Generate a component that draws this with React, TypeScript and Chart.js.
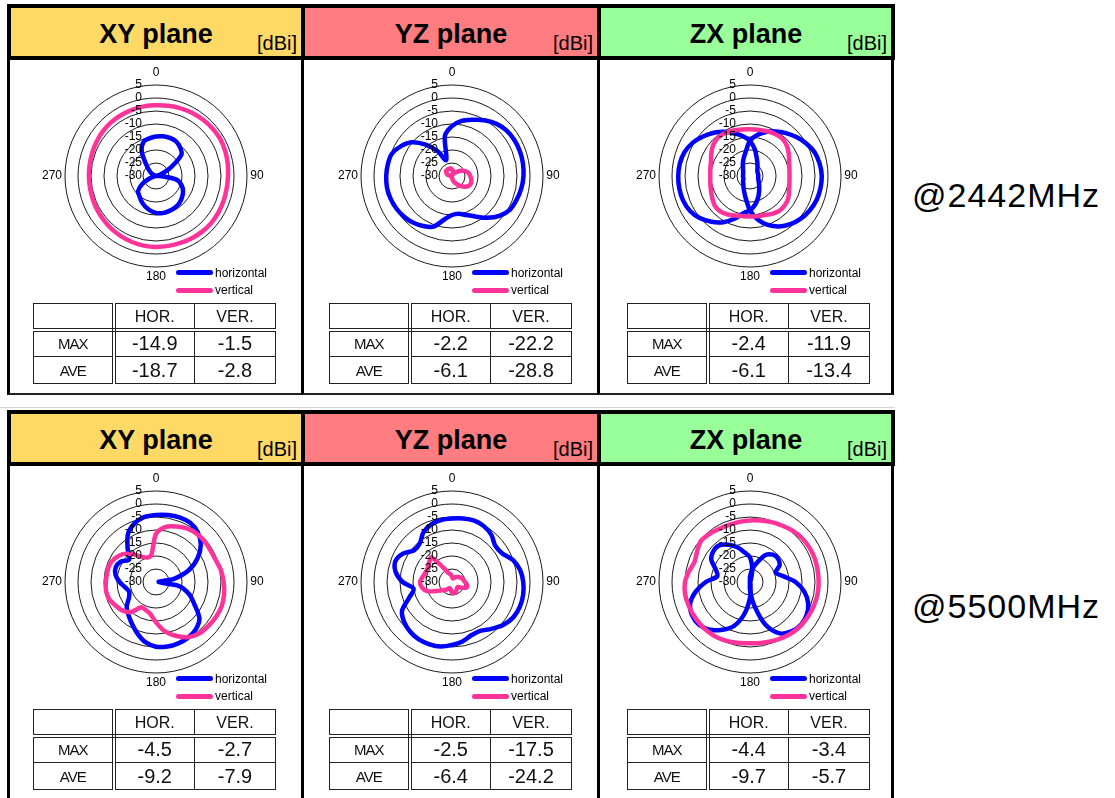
import React, { useEffect, useRef } from 'react';
import { Chart, registerables } from 'chart.js';
Chart.register(...registerables);

// ---------------- data ----------------
const ANGLES = [0, 10, 20, 30, 40, 50, 60, 70, 80, 90, 100, 110, 120, 130, 140, 150, 160, 170, 180, 190, 200, 210, 220, 230, 240, 250, 260, 270, 280, 290, 300, 310, 320, 330, 340, 350];
const R_MIN = -30;
const R_MAX = 5;
const R_STEP = 5;
const DIRECTION_LABELS = ['0', '90', '180', '270'];
const PLANE_TITLES = ['XY plane', 'YZ plane', 'ZX plane'];
const UNIT_LABEL = '[dBi]';
const FREQ_LABELS = ['@2442MHz', '@5500MHz'];
const SERIES_NAMES = ['horizontal', 'vertical'];
const TABLE_COLS = ['HOR.', 'VER.'];
const TABLE_ROWS = ['MAX', 'AVE'];

// 2442 MHz
const XY2442_HOR = [-14.8, -14.5, -14.4, -14.6, -15.6, -17.2, -23.5, -28.0, -30.0, -28.5, -22.0, -19.5, -18.0, -17.0, -16.2, -15.8, -15.6, -15.5, -15.8, -16.6, -17.6, -18.8, -20.0, -21.0, -24.0, -27.5, -30.0, -30.0, -30.0, -30.0, -28.0, -26.5, -24.0, -19.0, -16.0, -15.3];
const XY2442_VER = [-2.8, -2.6, -2.3, -2.0, -1.8, -1.6, -1.5, -1.7, -2.0, -2.3, -2.4, -2.3, -2.2, -2.1, -2.2, -2.4, -2.6, -2.7, -2.7, -2.8, -3.0, -3.2, -3.4, -3.7, -3.9, -4.1, -4.2, -4.2, -4.1, -3.9, -3.6, -3.3, -3.1, -3.0, -2.9, -2.8];
const YZ2442_HOR = [-10.8, -8.5, -7.0, -5.2, -3.7, -2.7, -2.3, -2.2, -2.3, -2.5, -2.9, -3.5, -4.2, -6.2, -9.0, -12.0, -14.0, -15.3, -15.0, -13.0, -9.3, -7.8, -6.6, -5.8, -5.2, -4.8, -4.6, -4.7, -4.9, -5.3, -7.2, -9.8, -14.3, -19.0, -23.5, -14.3];
const YZ2442_VER = [-27.5, -28.0, -29.0, -29.0, -28.5, -27.5, -26.0, -24.5, -23.5, -23.0, -22.5, -22.2, -22.5, -23.5, -25.0, -26.5, -27.5, -28.5, -29.5, -30.0, -30.0, -30.0, -30.0, -30.0, -30.0, -30.0, -30.0, -29.5, -29.0, -28.0, -27.5, -27.0, -27.0, -27.0, -27.0, -27.0];
const ZX2442_HOR_A = [-16.5, -14.0, -12.0, -10.2, -8.5, -6.7, -5.0, -3.5, -2.8, -2.4, -2.5, -2.8, -3.5, -4.5, -5.8, -7.6, -10.0, -13.0, -16.8, -21.0, -23.5, -25.0, -26.0, -26.5, -27.0, -27.3, -27.3, -27.3, -27.3, -27.2, -27.0, -26.5, -25.8, -24.5, -22.8, -20.5];
const ZX2442_HOR_B = [-16.5, -19.5, -22.5, -24.3, -25.5, -26.3, -26.7, -26.8, -26.8, -26.8, -26.8, -26.6, -26.2, -25.5, -24.5, -23.0, -21.0, -18.8, -16.8, -15.5, -12.5, -9.5, -7.0, -4.8, -3.3, -2.6, -2.4, -2.4, -2.6, -3.2, -4.5, -6.4, -8.3, -10.3, -12.5, -14.5];
const ZX2442_VER = [-12.0, -11.9, -11.6, -11.2, -11.0, -11.6, -12.8, -14.0, -14.6, -14.8, -14.6, -14.0, -13.0, -12.5, -12.5, -13.2, -14.0, -14.3, -14.4, -14.3, -13.8, -12.9, -12.2, -12.3, -13.2, -14.0, -14.5, -14.7, -14.5, -14.0, -12.8, -11.5, -10.8, -10.9, -11.4, -11.8];

// 5500 MHz
const XY5500_HOR = [-4.2, -3.8, -3.5, -3.7, -5.0, -7.5, -11.5, -16.5, -23.0, -29.0, -21.0, -16.5, -13.0, -8.2, -6.2, -5.3, -4.9, -4.8, -5.1, -6.5, -9.0, -11.5, -13.5, -15.3, -18.0, -19.0, -18.0, -16.0, -14.2, -13.5, -14.3, -16.5, -13.0, -8.5, -6.0, -4.6];
const XY5500_VER = [-11.5, -8.5, -7.3, -6.2, -5.7, -5.6, -5.8, -5.5, -4.6, -4.0, -3.4, -3.1, -3.3, -3.7, -4.1, -5.5, -8.0, -10.8, -14.5, -17.5, -18.5, -18.8, -14.8, -13.0, -12.0, -10.8, -10.5, -10.7, -10.9, -10.9, -11.8, -13.3, -16.0, -18.8, -20.0, -19.5];
const YZ5500_HOR = [-5.6, -5.2, -4.9, -5.3, -6.4, -8.3, -7.8, -5.1, -3.4, -2.6, -2.2, -2.2, -2.8, -4.3, -6.5, -8.3, -8.2, -6.8, -5.8, -4.8, -4.5, -4.5, -5.0, -6.0, -7.8, -12.5, -15.0, -11.0, -8.0, -6.8, -8.2, -11.0, -10.7, -8.0, -6.5, -5.8];
const YZ5500_VER = [-28.0, -28.5, -28.5, -28.0, -27.5, -27.0, -26.5, -26.0, -25.5, -25.0, -24.2, -24.0, -25.5, -27.0, -27.0, -26.5, -26.0, -25.6, -26.0, -27.0, -27.5, -27.0, -26.0, -25.0, -23.0, -19.8, -18.2, -17.7, -18.5, -19.2, -19.2, -18.5, -17.6, -24.0, -26.5, -27.0];
const ZX5500_HOR_A = [-20.5, -25.0, -29.0, -30.0, -30.0, -30.0, -30.0, -30.0, -30.0, -30.0, -30.0, -30.0, -30.0, -30.0, -30.0, -30.0, -30.0, -29.0, -24.0, -17.5, -12.0, -8.8, -6.0, -4.4, -4.3, -5.5, -8.8, -13.0, -17.2, -16.0, -12.8, -11.6, -11.6, -13.5, -15.8, -18.5];
const ZX5500_HOR_B = [-28.0, -25.0, -22.0, -18.0, -16.3, -16.0, -16.8, -19.5, -17.0, -12.5, -8.8, -6.2, -4.8, -4.4, -5.2, -7.2, -12.5, -21.0, -27.0, -30.0, -30.0, -30.0, -30.0, -30.0, -30.0, -30.0, -30.0, -30.0, -30.0, -30.0, -30.0, -30.0, -30.0, -30.0, -30.0, -30.0];
const ZX5500_VER = [-6.3, -6.0, -5.5, -5.0, -4.3, -3.8, -3.6, -3.5, -3.6, -3.6, -3.6, -3.8, -4.0, -4.2, -4.6, -5.2, -5.8, -6.2, -6.4, -6.2, -5.7, -5.2, -5.0, -4.9, -4.8, -4.7, -4.6, -5.0, -6.2, -7.3, -6.5, -5.4, -5.8, -6.4, -6.6, -6.5];

// summary tables (XY, YZ, ZX)
const MAX_HOR_2442 = [-14.9, -2.2, -2.4];
const MAX_VER_2442 = [-1.5, -22.2, -11.9];
const AVE_HOR_2442 = [-18.7, -6.1, -6.1];
const AVE_VER_2442 = [-2.8, -28.8, -13.4];
const MAX_HOR_5500 = [-4.5, -2.5, -4.4];
const MAX_VER_5500 = [-2.7, -17.5, -3.4];
const AVE_HOR_5500 = [-9.2, -6.4, -9.7];
const AVE_VER_5500 = [-7.9, -24.2, -5.7];

// ---------------- styles / layout ----------------
const FONT = '"Liberation Sans", Arial, Helvetica, sans-serif';
const BLUE = '#0000ff';
const PINK = '#ff3399';
const HEADER_COLORS = ['#ffd966', '#ff7c80', '#99ff99'];
const BLOCK_TOPS = [4, 410];
const CELL_LEFTS = [7, 301, 597];
const CELL_WIDTHS = [298, 300, 298];
const CENTER_X = [156, 452, 750];
const FREQ_TOPS = [175, 586];

const BLOCKS = [
  {
    hor: [[XY2442_HOR], [YZ2442_HOR], [ZX2442_HOR_A, ZX2442_HOR_B]],
    ver: [[XY2442_VER], [YZ2442_VER], [ZX2442_VER]],
    maxHor: MAX_HOR_2442, maxVer: MAX_VER_2442, aveHor: AVE_HOR_2442, aveVer: AVE_VER_2442,
  },
  {
    hor: [[XY5500_HOR], [YZ5500_HOR], [ZX5500_HOR_A, ZX5500_HOR_B]],
    ver: [[XY5500_VER], [YZ5500_VER], [ZX5500_VER]],
    maxHor: MAX_HOR_5500, maxVer: MAX_VER_5500, aveHor: AVE_HOR_5500, aveVer: AVE_VER_5500,
  },
];

const CANVAS_W = 250;
const CANVAS_H = 240;
const CX_IN = 125;
const CY_IN = 115;
const RADIUS = 91;

const labelPlugin = {
  id: 'polarLabels',
  afterDatasetsDraw(chart: any) {
    const s = chart.scales.r;
    const ctx = chart.ctx;
    ctx.save();
    ctx.fillStyle = '#000';
    ctx.font = `12px ${FONT}`;
    ctx.textAlign = 'right';
    ctx.textBaseline = 'middle';
    s.ticks.forEach((t: any) => {
      const d = s.getDistanceFromCenterForValue(t.value);
      ctx.fillText(String(t.value), s.xCenter - 14, s.yCenter - d);
    });
    ctx.textAlign = 'center';
    const R = s.drawingArea;
    const offs = [[0, -(R + 12)], [R + 10, 0], [0, R + 10], [-(R + 13), 0]];
    DIRECTION_LABELS.forEach((lab, i) => {
      ctx.fillText(lab, s.xCenter + offs[i][0], s.yCenter + offs[i][1]);
    });
    ctx.restore();
  },
};

function Polar({ cx, cy, hor, ver }: { cx: number; cy: number; hor: number[][]; ver: number[][] }) {
  const ref = useRef<HTMLCanvasElement>(null);
  useEffect(() => {
    const mk = (d: number[], color: string) => ({
      data: d,
      borderColor: color,
      backgroundColor: color,
      borderWidth: 4.5,
      pointRadius: 0,
      pointHoverRadius: 0,
      fill: false,
      tension: 0.3,
      borderJoinStyle: 'round' as const,
      borderCapStyle: 'round' as const,
    });
    const datasets = [...ver.map((d) => mk(d, PINK)), ...hor.map((d) => mk(d, BLUE))];
    const chart = new Chart(ref.current as HTMLCanvasElement, {
      type: 'radar',
      data: { labels: ANGLES.map(String), datasets },
      options: {
        animation: false,
        responsive: false,
        events: [],
        layout: {
          padding: {
            left: CX_IN - RADIUS,
            right: CANVAS_W - CX_IN - RADIUS,
            top: CY_IN - RADIUS,
            bottom: CANVAS_H - CY_IN - RADIUS,
          },
        },
        plugins: { legend: { display: false }, tooltip: { enabled: false } },
        scales: {
          r: {
            min: R_MIN,
            max: R_MAX,
            ticks: { display: false, stepSize: R_STEP },
            grid: { circular: true, color: '#1a1a1a', lineWidth: 1 },
            angleLines: { display: false },
            pointLabels: { display: false },
          },
        },
      } as any,
      plugins: [labelPlugin],
    });
    return () => chart.destroy();
  }, []);
  return (
    <canvas
      ref={ref}
      width={CANVAS_W}
      height={CANVAS_H}
      style={{ position: 'absolute', left: cx - CX_IN, top: cy - CY_IN, width: CANVAS_W, height: CANVAS_H }}
    />
  );
}

function Legend({ cx, cy }: { cx: number; cy: number }) {
  const items = [
    { name: SERIES_NAMES[0], color: BLUE, dy: 96.5 },
    { name: SERIES_NAMES[1], color: PINK, dy: 114 },
  ];
  return (
    <>
      {items.map((it) => (
        <React.Fragment key={it.name}>
          <div
            style={{
              position: 'absolute', left: cx + 20, top: cy + it.dy - 2.5, width: 37, height: 5,
              background: it.color, borderRadius: 3,
            }}
          />
          <div
            style={{
              position: 'absolute', left: cx + 59, top: cy + it.dy - 8, height: 16, lineHeight: '16px',
              fontSize: 12, fontFamily: FONT, color: '#000', whiteSpace: 'nowrap',
            }}
          >
            {it.name}
          </div>
        </React.Fragment>
      ))}
    </>
  );
}

function SummaryTable({ cx, cy, vals }: { cx: number; cy: number; vals: number[][] }) {
  const line = '1px solid #222';
  const dbl = '4px double #222';
  const base: React.CSSProperties = { border: line, padding: 0, textAlign: 'center', verticalAlign: 'middle', color: '#111' };
  return (
    <table
      style={{
        position: 'absolute', left: cx - 123, top: cy + 127, width: 242, height: 80,
        borderCollapse: 'collapse', tableLayout: 'fixed', fontFamily: FONT,
      }}
    >
      <colgroup>
        <col style={{ width: 80 }} />
        <col style={{ width: 81 }} />
        <col style={{ width: 81 }} />
      </colgroup>
      <tbody>
        <tr style={{ height: 26 }}>
          <td style={{ ...base, borderBottom: dbl, borderRight: dbl }} />
          {TABLE_COLS.map((c) => (
            <td key={c} style={{ ...base, borderBottom: dbl, fontSize: 16, paddingTop: 2 }}>{c}</td>
          ))}
        </tr>
        {TABLE_ROWS.map((r, ri) => (
          <tr key={r} style={{ height: 27 }}>
            <td style={{ ...base, borderRight: dbl, fontSize: 15, letterSpacing: -1 }}>{r}</td>
            {vals[ri].map((v, ci) => (
              <td key={ci} style={{ ...base, fontSize: 20 }}>{v.toFixed(1)}</td>
            ))}
          </tr>
        ))}
      </tbody>
    </table>
  );
}

function Block({ bi }: { bi: number }) {
  const T = BLOCK_TOPS[bi];
  const b = BLOCKS[bi];
  const cy = T + 172;
  return (
    <>
      {PLANE_TITLES.map((title, i) => (
        <React.Fragment key={title}>
          <div
            style={{
              position: 'absolute', left: CELL_LEFTS[i], top: T + 52, width: CELL_WIDTHS[i] - 1, height: 339,
              boxSizing: 'border-box', borderLeft: '3px solid #000', borderRight: '3px solid #000',
              borderBottom: '2px solid #222', background: '#fff',
            }}
          />
          <div
            style={{
              position: 'absolute', left: CELL_LEFTS[i], top: T, width: CELL_WIDTHS[i], height: 56,
              boxSizing: 'border-box', border: '4px solid #000', background: HEADER_COLORS[i],
            }}
          >
            <div
              style={{
                position: 'absolute', left: 0, right: 0, top: 11, lineHeight: '30px', height: 30,
                textAlign: 'center', fontFamily: FONT, fontWeight: 'bold', fontSize: 27, color: '#000',
              }}
            >
              {title}
            </div>
            <div
              style={{
                position: 'absolute', right: 4, top: 23.6, lineHeight: '22px', height: 22,
                fontFamily: FONT, fontSize: 20, color: '#000',
              }}
            >
              {UNIT_LABEL}
            </div>
          </div>
        </React.Fragment>
      ))}
      {PLANE_TITLES.map((title, i) => (
        <React.Fragment key={'c' + title}>
          <Polar cx={CENTER_X[i]} cy={cy} hor={b.hor[i]} ver={b.ver[i]} />
          <Legend cx={CENTER_X[i]} cy={cy} />
          <SummaryTable
            cx={CENTER_X[i]}
            cy={cy}
            vals={[
              [b.maxHor[i], b.maxVer[i]],
              [b.aveHor[i], b.aveVer[i]],
            ]}
          />
        </React.Fragment>
      ))}
      <div
        style={{
          position: 'absolute', left: 912, top: FREQ_TOPS[bi], lineHeight: '40px', height: 40,
          fontFamily: FONT, fontSize: 34, letterSpacing: 1, color: '#000', whiteSpace: 'nowrap',
        }}
      >
        {FREQ_LABELS[bi]}
      </div>
    </>
  );
}

export default function App() {
  return (
    <div
      style={{
        position: 'absolute', left: 0, top: 0, width: 1115, height: 798, overflow: 'hidden',
        background: '#fff', fontFamily: FONT,
      }}
    >
      <div style={{ position: 'absolute', left: 0, top: 407, width: 895, height: 1, background: '#d4d4d4' }} />
      <Block bi={0} />
      <Block bi={1} />
    </div>
  );
}
